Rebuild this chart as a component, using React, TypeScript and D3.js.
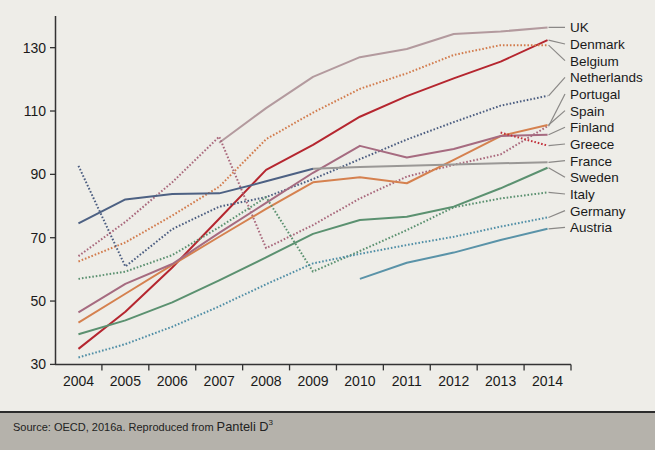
import React from "react";
import * as d3 from "d3";

const years = [2004, 2005, 2006, 2007, 2008, 2009, 2010, 2011, 2012, 2013, 2014];
const yTicks = [30, 50, 70, 90, 110, 130];

type V = number | null;
const uk: V[] = [null, null, null, 100.0, 110.9, 120.8, 127.0, 129.6, 134.3, 135.1, 136.4];
const denmark: V[] = [34.9, 46.6, 60.6, 76.0, 91.4, 99.3, 108.2, 114.7, 120.3, 125.6, 132.4];
const belgium: V[] = [62.5, 68.5, 77.0, 86.1, 101.1, 109.5, 117.0, 121.9, 127.7, 130.8, 130.8];
const netherlands: V[] = [92.7, 60.9, 72.7, 79.8, 82.8, 88.5, 94.8, 101.0, 106.5, 111.7, 114.8];
const portugal: V[] = [64.2, 75.0, 87.5, 101.9, 66.7, 74.0, 82.4, 89.3, 93.0, 96.3, 105.2];
const spain: V[] = [43.2, 52.3, 61.4, 70.3, 79.1, 87.5, 89.1, 87.2, 94.6, 102.1, 105.6];
const finland: V[] = [46.4, 55.4, 61.7, 71.5, 81.0, 90.5, 99.0, 95.3, 98.0, 102.1, 102.5];
const greece: V[] = [null, null, null, null, null, null, null, null, null, 103.2, 99.1];
const france: V[] = [74.5, 82.1, 83.8, 84.0, 87.8, 91.8, 92.3, 92.7, 93.1, 93.5, 93.8];
const sweden: V[] = [39.5, 43.9, 49.6, 56.5, 63.8, 71.2, 75.6, 76.6, 79.8, 85.6, 92.1];
const italy: V[] = [57.0, 59.3, 64.5, 73.3, 82.8, 59.3, 65.8, 72.4, 79.6, 82.4, 84.3];
const germany: V[] = [32.2, 36.4, 41.9, 48.3, 55.3, 61.9, 64.9, 67.7, 70.3, 73.5, 76.4];
const austria: V[] = [null, null, null, null, null, null, 57.0, 62.1, 65.3, 69.3, 72.8];

const labels = ["UK", "Denmark", "Belgium", "Netherlands", "Portugal", "Spain", "Finland", "Greece", "France", "Sweden", "Italy", "Germany", "Austria"];
const seriesValues = [uk, denmark, belgium, netherlands, portugal, spain, finland, greece, france, sweden, italy, germany, austria];
const colors = ["#b39a9e", "#b5262f", "#d27b4c", "#4b5d80", "#a9687c", "#d5814f", "#a66b80", "#c2303a", "#9a9896", "#5b9170", "#5b9170", "#4f8ea6", "#5a93a8"];
const dotted = [false, false, true, true, true, false, false, true, false, false, true, true, false];
const franceEarlyColor = "#4d6183";
const franceColorChangeYear = 2009;

const W = 655;
const H = 450;
const font = "'Liberation Sans', Arial, sans-serif";

export default function App() {
  const x = d3.scaleBand<number>().domain(years).range([55, 571]);
  const cx = (yr: number) => (x(yr) as number) + x.bandwidth() / 2;
  const y = d3.scaleLinear().domain([30, 140]).range([364.4, 16]);

  const line = d3
    .line<{ yr: number; v: V }>()
    .defined((d) => d.v !== null)
    .x((d) => cx(d.yr))
    .y((d) => y(d.v as number));

  const pts = (vals: V[]) => years.map((yr, i) => ({ yr, v: vals[i] }));

  const labelY0 = 27.3;
  const labelStep = 16.67;

  return (
    <svg width={W} height={H} style={{ position: "absolute", left: 0, top: 0, display: "block" }} fontFamily={font}>
      <rect x={0} y={0} width={W} height={H} fill="#eeede8" />
      {/* footer */}
      <rect x={0} y={412} width={W} height={H - 412} fill="#b5b2ab" />
      <line x1={0} x2={W} y1={412} y2={412} stroke="#2b2b2b" strokeWidth={2} />
      <text x={13} y={431} fill="#222">
        <tspan fontSize={11}>Source: OECD, 2016a. Reproduced from </tspan>
        <tspan fontSize={12.8}>Panteli D</tspan>
        <tspan fontSize={8} dy={-6}>3</tspan>
      </text>

      {/* axes */}
      <line x1={55.5} x2={55.5} y1={y(140)} y2={y(30)} stroke="#333" strokeWidth={1.5} />
      <line x1={55} x2={571} y1={y(30)} y2={y(30)} stroke="#333" strokeWidth={1.5} />
      {yTicks.map((t) => (
        <g key={t}>
          <line x1={50} x2={55.5} y1={y(t)} y2={y(t)} stroke="#333" strokeWidth={1.3} />
          <text x={46} y={y(t)} dy="0.36em" textAnchor="end" fontSize={14} fill="#1a1a1a">
            {t}
          </text>
        </g>
      ))}
      {years.map((yr, i) => (
        <g key={yr}>
          {i > 0 && <line x1={x(yr)} x2={x(yr)} y1={y(30)} y2={y(30) + 6} stroke="#333" strokeWidth={1.3} />}
          <text x={cx(yr)} y={y(30) + 22} textAnchor="middle" fontSize={14} fill="#1a1a1a">
            {yr}
          </text>
        </g>
      ))}
      <line x1={571} x2={571} y1={y(30)} y2={y(30) + 6} stroke="#333" strokeWidth={1.3} />

      {/* series */}
      {seriesValues.map((vals, si) => {
        const isFrance = labels[si] === "France";
        const p = pts(vals);
        const common = {
          fill: "none",
          strokeWidth: 2,
          strokeDasharray: dotted[si] ? "1.6 1.9" : undefined,
          strokeLinejoin: "round" as const,
        };
        if (isFrance) {
          const early = p.filter((d) => d.yr <= franceColorChangeYear);
          const late = p.filter((d) => d.yr >= franceColorChangeYear);
          return (
            <g key={si}>
              <path d={line(late) || ""} stroke={colors[si]} {...common} />
              <path d={line(early) || ""} stroke={franceEarlyColor} {...common} />
            </g>
          );
        }
        return <path key={si} d={line(p) || ""} stroke={colors[si]} {...common} />;
      })}

      {/* labels with connectors */}
      {labels.map((lab, i) => {
        const vals = seriesValues[i];
        const endV = vals[vals.length - 1] as number;
        const ly = labelY0 + i * labelStep;
        return (
          <g key={lab}>
            <line x1={cx(2014) + 1} y1={y(endV)} x2={565} y2={ly} stroke="#8a8886" strokeWidth={1.2} />
            <text x={570} y={ly} dy="0.36em" fontSize={13.5} fill="#1a1a1a">
              {lab}
            </text>
          </g>
        );
      })}
    </svg>
  );
}
